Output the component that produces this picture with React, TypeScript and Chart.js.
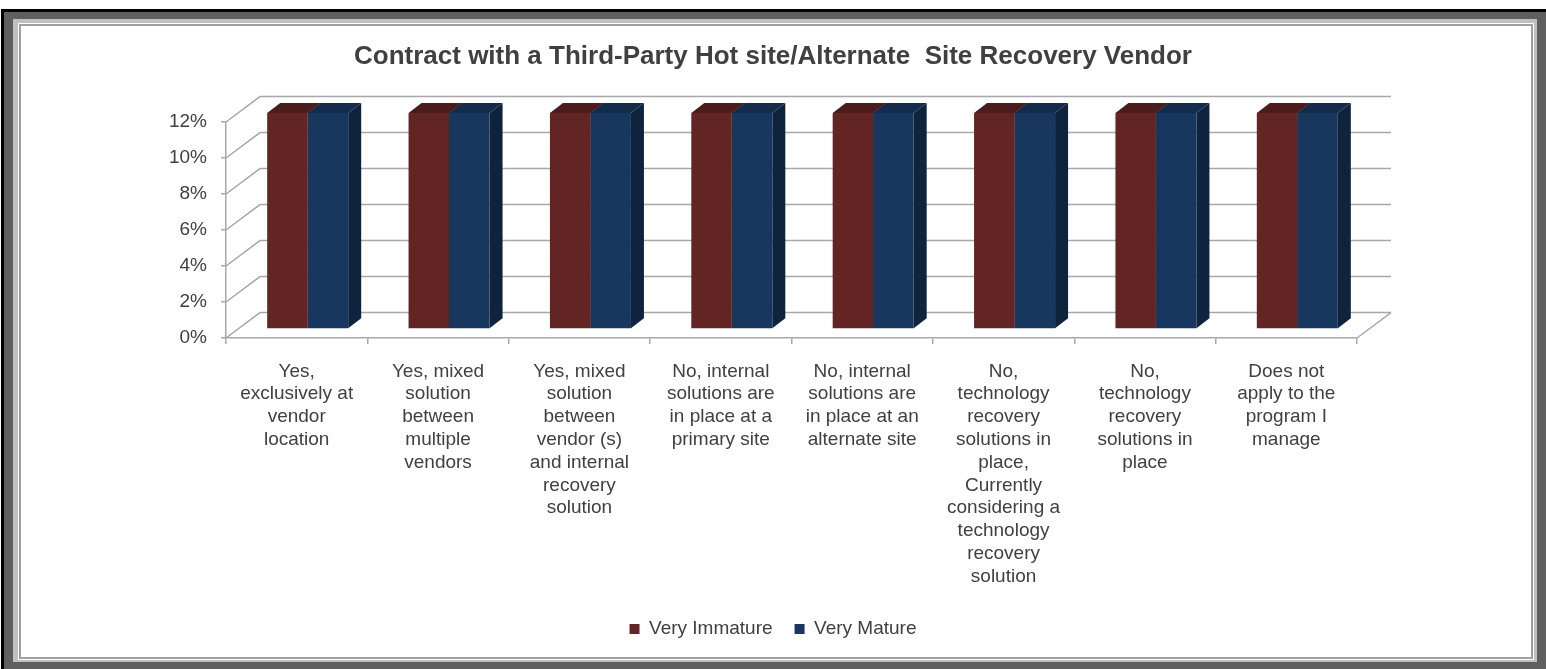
import React, { useEffect, useRef } from "react";
import { Chart, registerables } from "chart.js";

Chart.register(...registerables);

// ---------- data ----------
const titleText = "Contract with a Third-Party Hot site/Alternate  Site Recovery Vendor";

const categories: string[][] = [
  ["Yes,", "exclusively at", "vendor", "location"],
  ["Yes, mixed", "solution", "between", "multiple", "vendors"],
  ["Yes, mixed", "solution", "between", "vendor (s)", "and internal", "recovery", "solution"],
  ["No, internal", "solutions are", "in place at a", "primary site"],
  ["No, internal", "solutions are", "in place at an", "alternate site"],
  ["No,", "technology", "recovery", "solutions in", "place,", "Currently", "considering a", "technology", "recovery", "solution"],
  ["No,", "technology", "recovery", "solutions in", "place"],
  ["Does not", "apply to the", "program I", "manage"],
];

const seriesNames = ["Very Immature", "Very Mature"];
const veryImmature = [12, 12, 12, 12, 12, 12, 12, 12];
const veryMature = [12, 12, 12, 12, 12, 12, 12, 12];

const yTickValues = [0, 2, 4, 6, 8, 10, 12];
const yTickLabels = ["0%", "2%", "4%", "6%", "8%", "10%", "12%"];

// ---------- style ----------
const FONT = "'Liberation Sans', Arial, sans-serif";
const TEXT = "#404040";
const GRID = "#a8a8a8";

const WALL_DX = 34;
const WALL_DY = -25.4;
const BAR_SHIFT_X = 11;
const BAR_SHIFT_Y = -9;
const BAR_DX = 13;
const BAR_DY = -10;

const LEGEND_PAD = 22;
const BOTTOM_PAD = 20.5;

const faceColors = [
  { front: "#632523", top: "#4b1c1b", side: "#3f1716" },
  { front: "#17375e", top: "#132c4b", side: "#0f233c" },
];

const threeD = {
  id: "threeD",
  beforeDatasetsDraw(chart: any) {
    const { ctx, chartArea, scales } = chart;
    const { left, right, bottom } = chartArea;
    const y = scales.y;
    ctx.save();
    ctx.strokeStyle = GRID;
    ctx.lineWidth = 1.5;
    ctx.beginPath();
    yTickValues.forEach((v) => {
      const py = y.getPixelForValue(v);
      ctx.moveTo(left, py);
      ctx.lineTo(left + WALL_DX, py + WALL_DY);
      ctx.lineTo(right + WALL_DX, py + WALL_DY);
    });
    ctx.moveTo(right, bottom);
    ctx.lineTo(right + WALL_DX, bottom + WALL_DY);
    ctx.stroke();
    ctx.restore();

    ctx.save();
    ctx.translate(BAR_SHIFT_X, BAR_SHIFT_Y);
    const metas = chart.data.datasets.map((_: any, i: number) => chart.getDatasetMeta(i));
    // side faces
    metas.forEach((meta: any, i: number) => {
      meta.data.forEach((bar: any) => {
        const p = bar.getProps(["x", "y", "base", "width"], true);
        const r = p.x + p.width / 2;
        ctx.fillStyle = faceColors[i].side;
        ctx.beginPath();
        ctx.moveTo(r, p.y);
        ctx.lineTo(r + BAR_DX, p.y + BAR_DY);
        ctx.lineTo(r + BAR_DX, p.base + BAR_DY);
        ctx.lineTo(r, p.base);
        ctx.closePath();
        ctx.fill();
      });
    });
    // top faces
    metas.forEach((meta: any, i: number) => {
      meta.data.forEach((bar: any) => {
        const p = bar.getProps(["x", "y", "base", "width"], true);
        const l = p.x - p.width / 2;
        const r = p.x + p.width / 2;
        ctx.fillStyle = faceColors[i].top;
        ctx.beginPath();
        ctx.moveTo(l, p.y);
        ctx.lineTo(r, p.y);
        ctx.lineTo(r + BAR_DX, p.y + BAR_DY);
        ctx.lineTo(l + BAR_DX, p.y + BAR_DY);
        ctx.closePath();
        ctx.fill();
      });
    });
  },
  afterDatasetsDraw(chart: any) {
    chart.ctx.restore();
  },
};

export default function App() {
  const canvasRef = useRef<HTMLCanvasElement | null>(null);

  useEffect(() => {
    const canvas = canvasRef.current;
    if (!canvas) return;
    const chart = new Chart(canvas, {
      type: "bar",
      data: {
        labels: categories,
        datasets: [
          {
            label: seriesNames[0],
            data: veryImmature,
            backgroundColor: faceColors[0].front,
            borderWidth: 0,
            clip: false,
          } as any,
          {
            label: seriesNames[1],
            data: veryMature,
            backgroundColor: faceColors[1].front,
            borderWidth: 0,
            clip: false,
          } as any,
        ],
      },
      plugins: [threeD],
      options: {
        responsive: false,
        animation: false,
        devicePixelRatio: 1,
        categoryPercentage: 0.573,
        barPercentage: 1,
        layout: { padding: { top: 0, left: 0, right: 0, bottom: BOTTOM_PAD } },
        plugins: {
          title: {
            display: true,
            text: titleText,
            color: TEXT,
            font: { family: FONT, size: 26, weight: "bold", lineHeight: 1.2 },
            padding: { top: 41.4, bottom: 49.4 },
          },
          legend: {
            position: "bottom",
            labels: {
              color: TEXT,
              font: { family: FONT, size: 19 },
              boxWidth: 10,
              boxHeight: 10,
              padding: LEGEND_PAD,
            },
          },
          tooltip: { enabled: false },
        },
        scales: {
          x: {
            grid: {
              drawOnChartArea: false,
              drawTicks: true,
              tickLength: 6,
              color: GRID,
              lineWidth: 1.5,
              offset: true,
            },
            border: { display: true, color: GRID, width: 1.5 },
            ticks: {
              color: TEXT,
              font: { family: FONT, size: 19, lineHeight: 1.2 },
              padding: 16,
              autoSkip: false,
              maxRotation: 0,
              minRotation: 0,
            },
            afterFit: (s: any) => {
              s.height = 669 - BOTTOM_PAD - 29 - LEGEND_PAD - 338;
            },
          },
          y: {
            min: 0,
            max: 12,
            afterBuildTicks: (s: any) => {
              s.ticks = yTickValues.map((v) => ({ value: v }));
            },
            ticks: {
              color: TEXT,
              font: { family: FONT, size: 19 },
              padding: 14,
              callback: (v: any) => yTickLabels[yTickValues.indexOf(Number(v))] ?? "",
            },
            grid: {
              drawOnChartArea: false,
              drawTicks: true,
              tickLength: 5,
              color: GRID,
              lineWidth: 1.5,
            },
            border: { display: true, color: GRID, width: 1.5 },
            afterFit: (s: any) => {
              s.width = 226;
            },
          },
          y2: {
            position: "right",
            display: true,
            min: 0,
            max: 12,
            grid: { display: false },
            border: { display: false },
            ticks: { display: false },
            afterFit: (s: any) => {
              s.width = 189;
            },
          },
        },
      } as any,
    });
    return () => chart.destroy();
  }, []);

  return (
    <div
      style={{
        position: "fixed",
        left: 0,
        top: 0,
        width: 1546,
        height: 669,
        background: "#ffffff",
        overflow: "hidden",
      }}
    >
      <div style={{ position: "absolute", left: 1, top: 9, right: 0, bottom: 0, background: "#000000" }} />
      <div style={{ position: "absolute", left: 4, top: 12, right: 0, bottom: 0, background: "#5f5f5f" }} />
      <div style={{ position: "absolute", left: 13, top: 19, width: 1524, height: 643, background: "#c0c0c0" }} />
      <div style={{ position: "absolute", left: 18, top: 23, width: 1516, height: 637, background: "#ffffff" }} />
      <div
        style={{
          position: "absolute",
          left: 19,
          top: 24,
          width: 1514,
          height: 635,
          boxSizing: "border-box",
          border: "2px solid #a0a0a0",
          background: "#ffffff",
        }}
      />
      <canvas
        ref={canvasRef}
        width={1546}
        height={669}
        style={{ position: "absolute", left: 0, top: 0, width: 1546, height: 669 }}
      />
    </div>
  );
}
